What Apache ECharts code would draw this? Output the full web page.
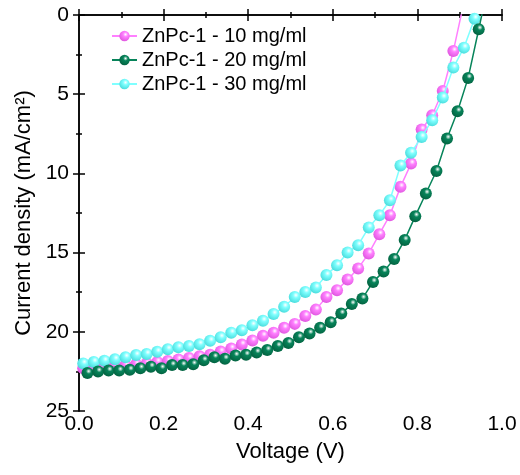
<!DOCTYPE html>
<html>
<head>
<meta charset="utf-8">
<script src="https://cdn.jsdelivr.net/npm/echarts@6/dist/echarts.min.js"></script>
<style>
  html, body { margin: 0; padding: 0; background: #fff; }
  #chart { width: 520px; height: 475px; }
</style>
</head>
<body>
<div id="chart"></div>
<script>
// Tensions (V) pour chaque courbe
const volt10 = [0.01, 0.035, 0.06, 0.085, 0.11, 0.135, 0.16, 0.185, 0.21, 0.235, 0.26, 0.285, 0.31, 0.335, 0.36, 0.385, 0.41, 0.435, 0.46, 0.485, 0.51, 0.535, 0.56, 0.585, 0.61, 0.635, 0.66, 0.685, 0.71, 0.735, 0.76, 0.785, 0.81, 0.835, 0.86, 0.885, 0.91];
const volt20 = [0.02, 0.045, 0.07, 0.095, 0.12, 0.145, 0.17, 0.195, 0.22, 0.245, 0.27, 0.295, 0.32, 0.345, 0.37, 0.395, 0.42, 0.445, 0.47, 0.495, 0.52, 0.545, 0.57, 0.595, 0.62, 0.645, 0.67, 0.695, 0.72, 0.745, 0.77, 0.795, 0.82, 0.845, 0.87, 0.895, 0.92, 0.945, 0.97];
const volt30 = [0.01, 0.035, 0.06, 0.085, 0.11, 0.135, 0.16, 0.185, 0.21, 0.235, 0.26, 0.285, 0.31, 0.335, 0.36, 0.385, 0.41, 0.435, 0.46, 0.485, 0.51, 0.535, 0.56, 0.585, 0.61, 0.635, 0.66, 0.685, 0.71, 0.735, 0.76, 0.785, 0.81, 0.835, 0.86, 0.885, 0.91, 0.935, 0.96];

// Densité de courant (mA/cm2)
const jsc10 = [22.3, 22.25, 22.2, 22.15, 22.1, 22.05, 22.0, 21.9, 21.85, 21.75, 21.65, 21.55, 21.45, 21.25, 21.05, 20.8, 20.55, 20.25, 20.06, 19.75, 19.5, 19.0, 18.6, 17.8, 17.37, 16.7, 16.0, 15.05, 13.84, 12.64, 10.85, 9.38, 7.23, 6.33, 4.8, 2.27, -0.8];
const jsc20 = [22.6, 22.5, 22.45, 22.45, 22.4, 22.3, 22.2, 22.3, 22.1, 22.1, 22.05, 21.8, 21.6, 21.7, 21.5, 21.45, 21.3, 21.15, 20.9, 20.7, 20.35, 20.1, 19.75, 19.4, 18.85, 18.25, 17.9, 16.85, 16.2, 15.4, 14.2, 12.7, 11.27, 9.85, 7.8, 6.08, 3.97, 0.9, -2.2];
const jsc30 = [22.0, 21.9, 21.83, 21.74, 21.6, 21.47, 21.4, 21.26, 21.1, 20.98, 20.9, 20.78, 20.57, 20.35, 20.06, 19.9, 19.58, 19.3, 18.88, 18.42, 17.8, 17.48, 17.2, 16.42, 15.8, 15.0, 14.53, 13.41, 12.64, 11.7, 9.5, 8.7, 7.7, 6.64, 5.21, 3.32, 2.06, 0.23, -1.6];

const names = ['ZnPc-1 - 10 mg/ml', 'ZnPc-1 - 20 mg/ml', 'ZnPc-1 - 30 mg/ml'];
const colors = ['#ff80ff', '#07845a', '#80ffff'];
const darks = ['#d94fd9', '#035c3c', '#3fd6d6'];

const chart = echarts.init(document.getElementById('chart'), null, { renderer: 'canvas' });

function toPairs(xs, ys) {
  return xs.map(function (x, i) { return [x, ys[i]]; });
}

function ball(c, d) {
  return new echarts.graphic.RadialGradient(0.6, 0.35, 0.75, [
    { offset: 0, color: '#ffffff' },
    { offset: 0.3, color: c },
    { offset: 1, color: d }
  ]);
}

const font = 'Liberation Sans, Arial, sans-serif';
const allData = [toPairs(volt10, jsc10), toPairs(volt20, jsc20), toPairs(volt30, jsc30)];

// l'ordre de dessin : 10 puis 30 puis 20 au-dessus
const order = [0, 2, 1];

const tickStyle = { inside: true, length: 6, lineStyle: { width: 1.5 } };
const minorStyle = { show: true, splitNumber: 2, length: 3, lineStyle: { color: '#000', width: 1.5 } };
const lineAxis = { lineStyle: { color: '#000', width: 1.5 } };

const option = {
  animation: false,
  grid: { left: 79, right: 18, top: 15, bottom: 64 },
  legend: {
    data: names,
    orient: 'vertical',
    left: 106,
    top: 21,
    itemWidth: 25,
    itemHeight: 13,
    itemGap: 4,
    textStyle: { fontFamily: font, fontSize: 20, color: '#000' }
  },
  xAxis: [
    {
      type: 'value', min: 0, max: 1, interval: 0.2,
      name: 'Voltage (V)', nameLocation: 'middle', nameGap: 30,
      nameTextStyle: { fontFamily: font, fontSize: 22, color: '#000' },
      axisLine: lineAxis,
      axisTick: tickStyle,
      minorTick: minorStyle,
      axisLabel: { fontFamily: font, fontSize: 21, color: '#000', margin: 3,
        formatter: function (v) { return v.toFixed(1); } },
      splitLine: { show: false }
    },
    {
      type: 'value', min: 0, max: 1, interval: 0.2, position: 'top',
      axisLine: lineAxis,
      axisTick: tickStyle,
      minorTick: minorStyle,
      axisLabel: { show: false },
      splitLine: { show: false }
    }
  ],
  yAxis: [
    {
      type: 'value', min: 0, max: 25, interval: 5, inverse: true,
      name: 'Current density (mA/cm²)', nameLocation: 'middle', nameGap: 41,
      nameTextStyle: { fontFamily: font, fontSize: 22, color: '#000' },
      axisLine: lineAxis,
      axisTick: tickStyle,
      minorTick: minorStyle,
      axisLabel: { fontFamily: font, fontSize: 21, color: '#000', margin: 10 },
      splitLine: { show: false }
    },
    {
      type: 'value', min: 0, max: 25, interval: 5, inverse: true, position: 'right',
      axisLine: lineAxis,
      axisTick: tickStyle,
      minorTick: minorStyle,
      axisLabel: { show: false },
      splitLine: { show: false }
    }
  ],
  series: order.map(function (k, n) {
    return {
      name: names[k],
      type: 'line',
      xAxisIndex: 0,
      yAxisIndex: 0,
      data: allData[k],
      clip: true,
      z: 2 + n,
      symbol: 'circle',
      symbolSize: 12,
      showAllSymbol: true,
      lineStyle: { color: colors[k], width: 1.5 },
      itemStyle: { color: ball(colors[k], darks[k]), borderWidth: 0 }
    };
  })
};

chart.setOption(option);
</script>
</body>
</html>
